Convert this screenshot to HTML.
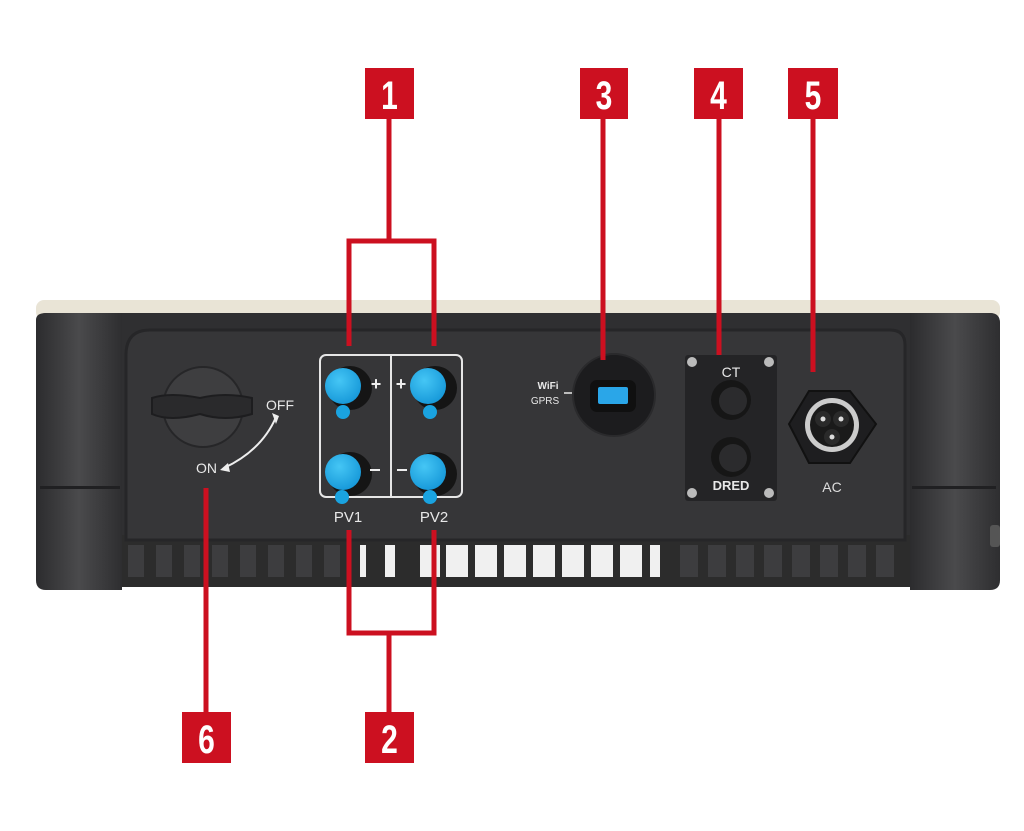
<!DOCTYPE html>
<html><head><meta charset="utf-8"><style>
html,body{margin:0;padding:0;background:#fff;width:1024px;height:831px;overflow:hidden}
svg{display:block}
text{font-family:"Liberation Sans",sans-serif}
</style></head><body>
<svg width="1024" height="831" viewBox="0 0 1024 831" xmlns="http://www.w3.org/2000/svg">
<defs>
<linearGradient id="cap" x1="0" y1="0" x2="1" y2="0"><stop offset="0" stop-color="#2c2c2e"/><stop offset=".5" stop-color="#4a4a4c"/><stop offset="1" stop-color="#2e2e30"/></linearGradient>
<radialGradient id="blue" cx=".4" cy=".35" r=".7"><stop offset="0" stop-color="#45c6f5"/><stop offset="1" stop-color="#1597d8"/></radialGradient>
</defs>
<rect x="36" y="300" width="964" height="20" rx="8" fill="#e9e4d6"/>
<rect x="36" y="313" width="964" height="232" rx="10" fill="#2f2f31"/>
<!-- heatsink -->
<rect x="118" y="535" width="800" height="52" fill="#2c2c2c"/>
<g fill="#f0f0f0">
<rect x="420" y="545" width="20" height="32"/><rect x="446" y="545" width="22" height="32"/><rect x="475" y="545" width="22" height="32"/><rect x="504" y="545" width="22" height="32"/><rect x="533" y="545" width="22" height="32"/><rect x="562" y="545" width="22" height="32"/><rect x="591" y="545" width="22" height="32"/><rect x="620" y="545" width="22" height="32"/><rect x="650" y="545" width="10" height="32"/>
<rect x="385" y="545" width="10" height="32"/><rect x="360" y="545" width="6" height="32"/>
</g>
<g fill="#3d3d3f">
<rect x="128" y="545" width="16" height="32"/><rect x="156" y="545" width="16" height="32"/><rect x="184" y="545" width="16" height="32"/><rect x="212" y="545" width="16" height="32"/><rect x="240" y="545" width="16" height="32"/><rect x="268" y="545" width="16" height="32"/><rect x="296" y="545" width="16" height="32"/><rect x="324" y="545" width="16" height="32"/>
<rect x="680" y="545" width="18" height="32"/><rect x="708" y="545" width="18" height="32"/><rect x="736" y="545" width="18" height="32"/><rect x="764" y="545" width="18" height="32"/><rect x="792" y="545" width="18" height="32"/><rect x="820" y="545" width="18" height="32"/><rect x="848" y="545" width="18" height="32"/><rect x="876" y="545" width="18" height="32"/>
</g>
<path d="M36 320 Q36 313 46 313 L122 313 L122 590 L46 590 Q36 590 36 580 Z" fill="url(#cap)"/>
<rect x="40" y="486" width="80" height="3" fill="#202022"/>
<path d="M910 313 L990 313 Q1000 313 1000 323 L1000 580 Q1000 590 990 590 L910 590 Z" fill="url(#cap)"/>
<rect x="912" y="486" width="84" height="3" fill="#202022"/>
<rect x="990" y="525" width="10" height="22" rx="3" fill="#555"/>
<path d="M150 330 L890 330 Q905 330 905 345 L905 540 L126 540 L126 355 Q126 330 150 330 Z" fill="#363638" stroke="#262628" stroke-width="3"/>
<!-- knob -->
<circle cx="203" cy="407" r="40" fill="#3e3e40" stroke="#262628" stroke-width="2"/>
<path d="M152 398 Q170 392 200 398 Q225 392 252 398 L252 414 Q225 422 200 414 Q170 422 152 414 Z" fill="#2a2a2c" stroke="#1d1d1f" stroke-width="2"/>
<text x="266" y="410" font-size="14" fill="#e8e8e8">OFF</text>
<text x="196" y="473" font-size="14" fill="#e8e8e8">ON</text>
<path d="M276 417 Q262 450 224 468" fill="none" stroke="#eee" stroke-width="2"/>
<path d="M272 413 L279 416 L276 424 Z M228 463 L220 470 L230 472 Z" fill="#eee"/>
<!-- PV -->
<rect x="320" y="355" width="142" height="142" rx="6" fill="none" stroke="#e6e6e6" stroke-width="2"/>
<line x1="391" y1="355" x2="391" y2="497" stroke="#e6e6e6" stroke-width="2"/>
<g>
<circle cx="350" cy="388" r="22" fill="#151515"/><circle cx="343" cy="386" r="18" fill="url(#blue)"/><circle cx="343" cy="412" r="7" fill="#1aa3e0"/>
<circle cx="435" cy="388" r="22" fill="#151515"/><circle cx="428" cy="386" r="18" fill="url(#blue)"/><circle cx="430" cy="412" r="7" fill="#1aa3e0"/>
<circle cx="350" cy="474" r="22" fill="#151515"/><circle cx="343" cy="472" r="18" fill="url(#blue)"/><circle cx="342" cy="497" r="7" fill="#1aa3e0"/>
<circle cx="435" cy="474" r="22" fill="#151515"/><circle cx="428" cy="472" r="18" fill="url(#blue)"/><circle cx="430" cy="497" r="7" fill="#1aa3e0"/>
</g>
<text x="376" y="390" font-size="18" font-weight="bold" fill="#eee" text-anchor="middle">+</text>
<text x="401" y="390" font-size="18" font-weight="bold" fill="#eee" text-anchor="middle">+</text>
<rect x="370" y="469" width="10" height="2" fill="#eee"/><rect x="397" y="469" width="10" height="2" fill="#eee"/>
<text x="348" y="522" font-size="15" fill="#e8e8e8" text-anchor="middle">PV1</text>
<text x="434" y="522" font-size="15" fill="#e8e8e8" text-anchor="middle">PV2</text>
<!-- wifi -->
<text x="548" y="389" font-size="10" font-weight="bold" fill="#e8e8e8" text-anchor="middle">WiFi</text>
<text x="545" y="404" font-size="10" fill="#e8e8e8" text-anchor="middle">GPRS</text>
<line x1="564" y1="393" x2="572" y2="393" stroke="#e8e8e8" stroke-width="1.5"/>
<circle cx="614" cy="395" r="41" fill="#1c1c1e" stroke="#2a2a2c" stroke-width="2"/>
<rect x="590" y="380" width="46" height="32" rx="7" fill="#101010"/>
<rect x="598" y="387" width="30" height="17" rx="2" fill="#2aa6e8"/>
<!-- CT -->
<rect x="685" y="355" width="92" height="146" rx="3" fill="#242426"/>
<circle cx="692" cy="362" r="5" fill="#bbb"/><circle cx="769" cy="362" r="5" fill="#bbb"/><circle cx="692" cy="493" r="5" fill="#bbb"/><circle cx="769" cy="493" r="5" fill="#bbb"/>
<text x="731" y="377" font-size="14" fill="#e8e8e8" text-anchor="middle">CT</text>
<text x="731" y="490" font-size="13" font-weight="bold" fill="#e8e8e8" text-anchor="middle">DRED</text>
<circle cx="731" cy="400" r="20" fill="#161616"/><circle cx="733" cy="401" r="14" fill="#2b2b2d"/>
<circle cx="731" cy="457" r="20" fill="#161616"/><circle cx="733" cy="458" r="14" fill="#2b2b2d"/>
<!-- AC -->
<polygon points="809,391 850,391 876,424 850,463 809,463 789,424" fill="#1e1e20" stroke="#111" stroke-width="2"/>
<circle cx="832" cy="425" r="27" fill="#ccc"/>
<circle cx="832" cy="425" r="22" fill="#1a1a1a"/>
<circle cx="823" cy="419" r="8" fill="#2a2a2a"/><circle cx="841" cy="419" r="8" fill="#2a2a2a"/><circle cx="832" cy="437" r="8" fill="#2a2a2a"/>
<circle cx="823" cy="419" r="2.5" fill="#ddd"/><circle cx="841" cy="419" r="2.5" fill="#ddd"/><circle cx="832" cy="437" r="2.5" fill="#ddd"/>
<text x="832" y="492" font-size="14" fill="#ddd" text-anchor="middle">AC</text>
<!-- callouts -->
<g stroke="#cc1020" stroke-width="5" fill="none">
<path d="M389 118 V241 M349 346 V241 H434 V346"/>
<line x1="603" y1="118" x2="603" y2="360"/>
<line x1="719" y1="118" x2="719" y2="355"/>
<line x1="813" y1="118" x2="813" y2="372"/>
<line x1="206" y1="488" x2="206" y2="712"/>
<path d="M349 530 V633 H434 V530 M389 633 V712"/>
</g>
<g fill="#cc1020">
<rect x="365" y="68" width="49" height="51"/>
<rect x="580" y="68" width="48" height="51"/>
<rect x="694" y="68" width="49" height="51"/>
<rect x="788" y="68" width="50" height="51"/>
<rect x="182" y="712" width="49" height="51"/>
<rect x="365" y="712" width="49" height="51"/>
</g>
<g fill="#fff" font-size="40" font-weight="bold" text-anchor="middle">
<text x="389.5" y="109" transform="translate(389.5 0) scale(.75 1) translate(-389.5 0)">1</text>
<text x="604" y="109" transform="translate(604 0) scale(.75 1) translate(-604 0)">3</text>
<text x="718.5" y="109" transform="translate(718.5 0) scale(.75 1) translate(-718.5 0)">4</text>
<text x="813" y="109" transform="translate(813 0) scale(.75 1) translate(-813 0)">5</text>
<text x="206.5" y="753" transform="translate(206.5 0) scale(.75 1) translate(-206.5 0)">6</text>
<text x="389.5" y="753" transform="translate(389.5 0) scale(.75 1) translate(-389.5 0)">2</text>
</g>
</svg>
</body></html>
